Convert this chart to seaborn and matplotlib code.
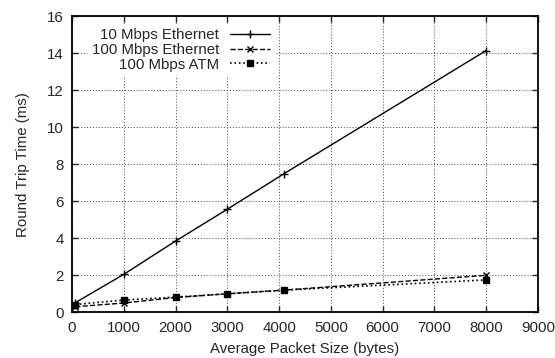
import matplotlib
matplotlib.use("Agg")
import matplotlib.pyplot as plt
import seaborn as sns
import pandas as pd

packet_sizes = [64, 1000, 2000, 3000, 4100, 8000]
eth10 = [0.52, 2.05, 3.85, 5.57, 7.5, 14.15]
eth100 = [0.3, 0.5, 0.8, 1.0, 1.2, 2.0]
atm100 = [0.42, 0.66, 0.82, 1.0, 1.2, 1.75]
series_names = ["10 Mbps Ethernet", "100 Mbps Ethernet", "100 Mbps ATM"]
x_ticks = [0, 1000, 2000, 3000, 4000, 5000, 6000, 7000, 8000, 9000]
y_ticks = [0, 2, 4, 6, 8, 10, 12, 14, 16]

sns.set_style("ticks")
plt.rcParams['font.family'] = ['Liberation Sans', 'DejaVu Sans']

fig = plt.figure(figsize=(5.55, 3.58), dpi=100)
ax = fig.add_axes([0.1297, 0.1277, 0.8397, 0.8268])

styles = [("-", "+", 6, 1.0), ("--", "x", 5, 1.0), (":", "s", 4, 1.2)]
for name, vals, (ls, mk, ms, lw) in zip(series_names, [eth10, eth100, atm100], styles):
    df = pd.DataFrame({"x": packet_sizes, "y": vals})
    sns.lineplot(data=df, x="x", y="y", ax=ax, color="black", linestyle=ls,
                 marker=mk, markersize=ms, markeredgewidth=1.0, linewidth=lw,
                 label=name, markerfacecolor="black", markeredgecolor="black")

fs = 10.8
ax.set_xlim(0, 9000)
ax.set_ylim(0, 16)
ax.set_xticks(x_ticks)
ax.set_yticks(y_ticks)
ax.grid(True, linestyle=(0, (1, 2)), color="#444444", linewidth=0.7)
ax.set_axisbelow(True)
ax.tick_params(direction="in", top=True, right=True, length=4, width=1, labelsize=fs, pad=6)
for s in ax.spines.values():
    s.set_linewidth(1.3)
    s.set_color("black")

ax.set_xlabel("Average Packet Size (bytes)", fontsize=fs, labelpad=5)
ax.set_ylabel("Round Trip Time (ms)", fontsize=fs, labelpad=12)

leg = ax.legend(loc="upper right", bbox_to_anchor=(0.435, 0.975), markerfirst=False,
                frameon=True, fontsize=fs, handlelength=2.7, handletextpad=0.7,
                labelspacing=0.05, borderpad=0.3, borderaxespad=0.0)
leg.get_frame().set_edgecolor("none")
leg.get_frame().set_facecolor("white")
leg.get_frame().set_alpha(1.0)

fig.savefig("out.png", dpi=100)
